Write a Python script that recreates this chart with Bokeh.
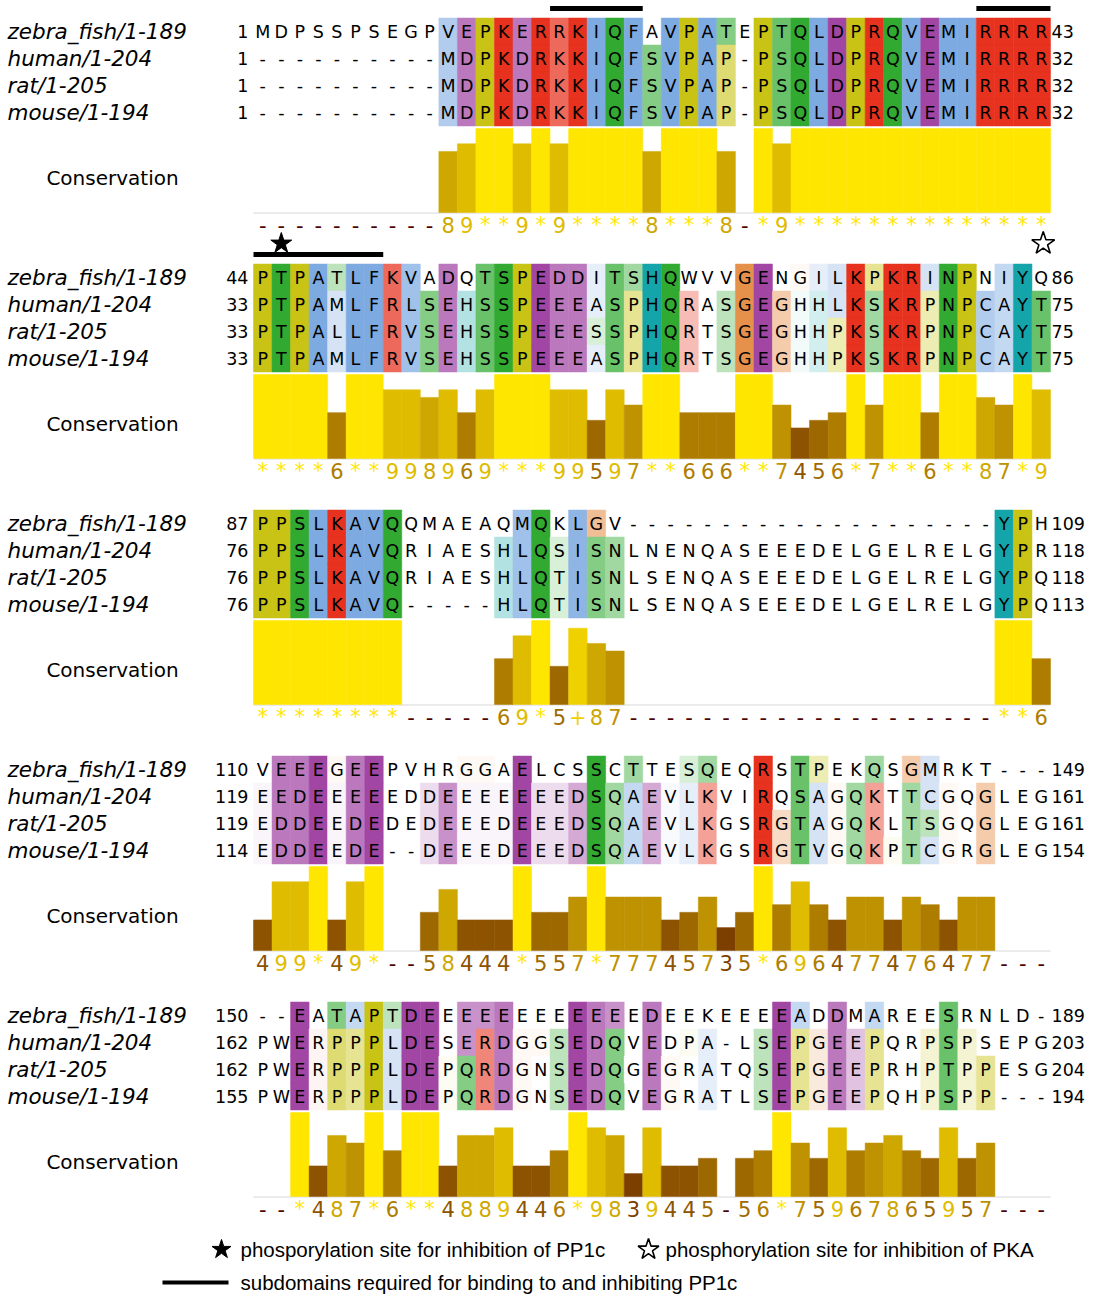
from bokeh.plotting import figure
from bokeh.models import Range1d, ColumnDataSource
from bokeh.core.properties import value
from bokeh.embed import file_html
from bokeh.resources import INLINE

# ---------------- data ----------------
names = ["zebra_fish/1-189", "human/1-204", "rat/1-205", "mouse/1-194"]

b1_seqs = ["MDPSSPSEGPVEPKERRKIQFAVPATEPTQLDPRQVEMIRRRR",
           "----------MDPKDRKKIQFSVPAP-PSQLDPRQVEMIRRRR",
           "----------MDPKDRKKIQFSVPAP-PSQLDPRQVEMIRRRR",
           "----------MDPKDRKKIQFSVPAP-PSQLDPRQVEMIRRRR"]
b1_cons = "----------89**9*9****8***8-*9**************"
b1_starts = [1, 1, 1, 1]
b1_ends = [43, 32, 32, 32]

b2_seqs = ["PTPATLFKVADQTSPEDDITSHQWVVGENGILKPKRINPNIYQ",
           "PTPAMLFRLSEHSSPEEEASPHQRASGEGHHLKSKRPNPCAYT",
           "PTPALLFRVSEHSSPEEESSPHQRTSGEGHHPKSKRPNPCAYT",
           "PTPAMLFRVSEHSSPEEEASPHQRTSGEGHHPKSKRPNPCAYT"]
b2_cons = "****6**998969***99597**666**7456*7**6**87*9"
b2_starts = [44, 33, 33, 33]
b2_ends = [86, 75, 75, 75]

b3_seqs = ["PPSLKAVQQMAEAQMQKLGV--------------------YPH",
           "PPSLKAVQRIAESHLQSISNLNENQASEEEDELGELRELGYPR",
           "PPSLKAVQRIAESHLQTISNLSENQASEEEDELGELRELGYPQ",
           "PPSLKAVQ-----HLQTISNLSENQASEEEDELGELRELGYPQ"]
b3_cons = "********-----69*5+87--------------------**6"
b3_starts = [87, 76, 76, 76]
b3_ends = [109, 118, 118, 113]

b4_seqs = ["VEEEGEEPVHRGGAELCSSCTTESQEQRSTPEKQSGMRKT---",
           "EEDEEEEEDDEEEEEEEDSQAEVLKVIRQSAGQKTTCGQGLEG",
           "EDDEEDEDEDEEEDEEEDSQAEVLKGSRGTAGQKLTSGQGLEG",
           "EDDEEDE--DEEEDEEEDSQAEVLKGSRGTVGQKPTCGRGLEG"]
b4_cons = "499*49*--58444*557*77745735*696477476477---"
b4_starts = [110, 119, 119, 114]
b4_ends = [149, 161, 161, 154]

b5_seqs = ["--EATAPTDEEEEEEEEEEEEDEEKEEEEADDMAREESRNLD-",
           "PWERPPPLDESERDGGSEDQVEDPA-LSEPGEEPQRPSPSEPG",
           "PWERPPPLDEPQRDGNSEDQGEGRATQSEPGEEPRHPTPPESG",
           "PWERPPPLDEPQRDGNSEDQVEGRATLSEPGEEPQHPSPP---"]
b5_cons = "--*487*6**4889446*9839445-56*75967865957---"
b5_starts = [150, 162, 162, 155]
b5_ends = [189, 203, 204, 194]

blocks = [(b1_seqs, b1_cons, b1_starts, b1_ends),
          (b2_seqs, b2_cons, b2_starts, b2_ends),
          (b3_seqs, b3_cons, b3_starts, b3_ends),
          (b4_seqs, b4_cons, b4_starts, b4_ends),
          (b5_seqs, b5_cons, b5_starts, b5_ends)]

# feature marks: (block index, first column, last column) / (block index, column)
domain_marks = [(0, 17, 21), (0, 40, 43), (1, 1, 7)]
pp1c_sites = [(1, 2)]
pka_sites = [(1, 43)]

legend_pp1c = "phosporylation site for inhibition of PP1c"
legend_pka = "phosphorylation site for inhibition of PKA"
legend_domain = "subdomains required for binding to and inhibiting PP1c"

# ---------------- layout / style ----------------
W, H = 1095, 1300
X0 = 253.0
CW = 797.0 / 43
ROW0 = 31.0
ROWH = 27.0
BLOCK = 246.0
BAR_BASE = 212.0
BAR_MAX = 84.0
LABEL_Y = 224.0
CONS_Y = 177.0
SHADE_K = 0.135

BASE = {"blue": (125, 170, 225), "red": (230, 50, 30), "green": (50, 170, 50),
        "magenta": (162, 70, 164), "yellow": (200, 195, 20), "cyan": (20, 165, 170),
        "orange": (230, 145, 75), "pink": (230, 127, 127)}
HYD = "WLVIMAFCYHP"


def pct(col, chars):
    return 100.0 * sum(c in chars for c in col) / len(col)


def clustal(res, col):
    hyd = pct(col, HYD)
    if res in "AILMFWV":
        return "blue" if hyd > 60 else None
    if res == "C":
        if pct(col, "C") > 85:
            return "pink"
        return "blue" if hyd > 60 else None
    if res in "KR":
        ok = pct(col, "KR") > 60 or pct(col, "K") > 80 or pct(col, "R") > 80 or pct(col, "Q") > 80
        return "red" if ok else None
    if res == "E":
        ok = pct(col, "KR") > 60 or pct(col, "QE") > 50 or pct(col, "ED") > 50
        return "magenta" if ok else None
    if res == "D":
        ok = pct(col, "KR") > 60 or pct(col, "KRQ") > 85 or pct(col, "ED") > 50
        return "magenta" if ok else None
    if res == "N":
        return "green" if pct(col, "N") > 50 else None
    if res == "Q":
        ok = pct(col, "KR") > 60 or pct(col, "QE") > 50
        return "green" if ok else None
    if res in "ST":
        ok = hyd > 60 or pct(col, "TS") > 50 or pct(col, "S") > 80 or pct(col, "T") > 80
        return "green" if ok else None
    if res == "G":
        return "orange"
    if res == "P":
        return "yellow"
    if res in "HY":
        ok = hyd > 60 or any(pct(col, x) > 85 for x in "WYACPQFHILMV")
        return "cyan" if ok else None
    return None


def score(ch):
    if ch == "*":
        return 11
    if ch == "+":
        return 10
    if ch == "-":
        return 0
    return int(ch)


def hexc(rgb):
    return "#%02x%02x%02x" % tuple(int(round(max(0, min(255, v)))) for v in rgb)


def shade(hue, ch):
    if hue is None or ch == "-":
        return None
    f = min(1.0, (11 - score(ch)) * SHADE_K)
    r, g, b = BASE[hue]
    return hexc((r + (255 - r) * f, g + (255 - g) * f, b + (255 - b) * f))


def cons_color(ch):
    v = score(ch) / 11.0
    return hexc((255 * (0.3 + 0.7 * v), 255 * 0.9 * v, 0))


# ---------------- figure ----------------
p = figure(width=W, height=H, x_range=Range1d(0, W), y_range=Range1d(H, 0),
           output_backend="svg", toolbar_location=None, min_border=0)
p.xaxis.visible = False
p.yaxis.visible = False
p.xgrid.visible = False
p.ygrid.visible = False
p.outline_line_color = None
p.background_fill_color = "white"
p.border_fill_color = "white"

cell = dict(l=[], r=[], t=[], b=[], c=[])
res = dict(x=[], y=[], t=[])
bars = dict(l=[], r=[], t=[], b=[], c=[])
lab = dict(x=[], y=[], t=[], c=[])
nm = dict(x=[], y=[], t=[])
sn = dict(x=[], y=[], t=[])
en = dict(x=[], y=[], t=[])
cl = dict(x=[], y=[], t=[])
base_l = dict(x0=[], x1=[], y=[])

for bi, (seqs, cons, starts, ends) in enumerate(blocks):
    off = bi * BLOCK
    ncol = len(cons)
    for ci in range(ncol):
        col = [s[ci] for s in seqs]
        xl = X0 + ci * CW
        for ri, s in enumerate(seqs):
            yc = ROW0 + off + ri * ROWH
            colr = shade(clustal(s[ci], col), cons[ci])
            if colr is not None:
                cell["l"].append(xl); cell["r"].append(xl + CW)
                cell["t"].append(yc - ROWH / 2); cell["b"].append(yc + ROWH / 2)
                cell["c"].append(colr)
            res["x"].append(xl + CW / 2); res["y"].append(yc); res["t"].append(s[ci])
        sc = score(cons[ci])
        if sc > 0:
            bars["l"].append(xl); bars["r"].append(xl + CW)
            bars["b"].append(BAR_BASE + off); bars["t"].append(BAR_BASE + off - BAR_MAX * sc / 11.0)
            bars["c"].append(cons_color(cons[ci]))
        lab["x"].append(xl + CW / 2); lab["y"].append(LABEL_Y + off)
        lab["t"].append(cons[ci]); lab["c"].append(cons_color(cons[ci]))
    for ri in range(len(seqs)):
        yc = ROW0 + off + ri * ROWH
        nm["x"].append(7); nm["y"].append(yc); nm["t"].append(names[ri])
        sn["x"].append(248); sn["y"].append(yc); sn["t"].append(str(starts[ri]))
        en["x"].append(X0 + ncol * CW + 1); en["y"].append(yc); en["t"].append(str(ends[ri]))
    cl["x"].append(112); cl["y"].append(CONS_Y + off); cl["t"].append("Conservation")
    base_l["x0"].append(X0); base_l["x1"].append(X0 + ncol * CW); base_l["y"].append(BAR_BASE + off + 0.5)

p.quad(left="l", right="r", top="t", bottom="b", fill_color="c", line_color="c", line_width=0.5,
       source=ColumnDataSource(cell))
p.segment(x0="x0", x1="x1", y0="y", y1="y", line_color="#e4e4e4", line_width=1.5,
          source=ColumnDataSource(base_l))
p.quad(left="l", right="r", top="t", bottom="b", fill_color="c", line_color="c", line_width=0.5,
       source=ColumnDataSource(bars))

SEQ_FONT = value("DejaVu Sans")
p.text(x="x", y="y", text="t", source=ColumnDataSource(res), text_font=SEQ_FONT,
       text_font_size=value("17.5px"), text_align="center", text_baseline="middle", text_color="black")
p.text(x="x", y="y", text="t", source=ColumnDataSource(lab), text_font=SEQ_FONT,
       text_font_size=value("21px"), text_align="center", text_baseline="middle", text_color="c")
p.text(x="x", y="y", text="t", source=ColumnDataSource(nm), text_font=SEQ_FONT,
       text_font_style="italic", text_font_size=value("21.5px"), text_align="left",
       text_baseline="middle", text_color="black")
p.text(x="x", y="y", text="t", source=ColumnDataSource(sn), text_font=SEQ_FONT,
       text_font_size=value("17.5px"), text_align="right", text_baseline="middle", text_color="black")
p.text(x="x", y="y", text="t", source=ColumnDataSource(en), text_font=SEQ_FONT,
       text_font_size=value("17.5px"), text_align="left", text_baseline="middle", text_color="black")
p.text(x="x", y="y", text="t", source=ColumnDataSource(cl), text_font=SEQ_FONT,
       text_font_size=value("20px"), text_align="center", text_baseline="middle", text_color="black")

# domain bars and phosphorylation stars
dm = dict(l=[], r=[], t=[], b=[])
for bi, c0, c1 in domain_marks:
    yb = ROW0 + bi * BLOCK - 23
    dm["l"].append(X0 + (c0 - 1) * CW); dm["r"].append(X0 + c1 * CW)
    dm["t"].append(yb - 2.5); dm["b"].append(yb + 2.5)
p.quad(left="l", right="r", top="t", bottom="b", fill_color="black", line_color=None,
       source=ColumnDataSource(dm))

fs = dict(x=[X0 + (c - 0.5) * CW for b, c in pp1c_sites], y=[ROW0 + b * BLOCK - 34 for b, c in pp1c_sites])
os_ = dict(x=[X0 + (c - 0.5) * CW + 2 for b, c in pka_sites], y=[ROW0 + b * BLOCK - 34 for b, c in pka_sites])
p.scatter(x="x", y="y", source=ColumnDataSource(fs), marker="star", size=22,
          fill_color="black", line_color="black")
p.scatter(x="x", y="y", source=ColumnDataSource(os_), marker="star", size=24,
          fill_color="white", line_color="black", line_width=1.6)

# legend
LEG_FONT = value("Liberation Sans")
p.scatter(x=[221], y=[1249], marker="star", size=20, fill_color="black", line_color="black")
p.scatter(x=[648], y=[1249], marker="star", size=22, fill_color="white", line_color="black", line_width=1.6)
p.segment(x0=[162], x1=[228], y0=[1282], y1=[1282], line_color="black", line_width=4)
p.text(x=[240, 665, 240], y=[1249, 1249, 1282], text=[legend_pp1c, legend_pka, legend_domain],
       text_font=LEG_FONT, text_font_size=value("20.5px"), text_align="left",
       text_baseline="middle", text_color="black")

open("out.html", "w").write(file_html(p, INLINE))
